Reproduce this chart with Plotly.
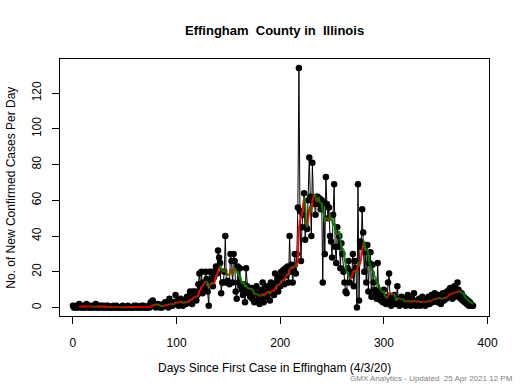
import plotly.graph_objects as go
import numpy as np

# daily new confirmed cases, day 0 .. 386
cases_0_99 = [1,0,0,1,0,0,2,1,0,0, 1,0,0,2,1,0,0,1,0,0, 1,0,2,0,0,1,0,1,0,1,
              0,0,1,0,1,0,0,0,0,1, 0,0,1,0,0,0,0,0,1,0, 0,0,0,1,0,0,0,0,0,1,
              0,1,0,0,0,0,1,0,1,0, 0,0,0,1,0,3,1,4,2,1, 0,1,2,1,0,1,0,2,1,3,
              2,1,0,5,2,1,1,3,2,7]
cases_100_160 = [2,4,1,3,5,2,1,4,3,2, 6,4,3,9,5,2,9,6,9,4, 7,13,19,11,20,8,14,11,20,16,
                 9,1,20,14,20,12,17,20,23,19, 32,28,25,8,14,14,20,40,14,15, 14,13,30,26,14,30,26,9,5,23,
                 14]
cases_161_216 = [22,12,10,7,13,3,22,12,8,10, 6,11,5,9,3,8,12,4,7,2, 10,6,14,3,9,11,6,12,8,4,
                 14,10,12,7,19,13,15,9,17,12, 20,16,21,13,22,18,23,14,40,20, 24,14,21,30,19,30]
cases_217_280 = [56,134,54,26,45,52,64,38,45,44, 60,84,62,40,81,60,58,52,62,62, 58,61,55,60,14,59,30,73,58,50,
                 56,40,37,28,52,69,34,25,45,34, 40,22,36,30,20,14,9,8,22,26, 14,20,18,30,12,26,22,0,69,4,
                 37,34,55,42]
cases_281_386 = [20,31,14,35,9,25,31,6,24,14, 10,8,5,25,6,9,4,7,3,10, 5,2,6,14,19,4,1,6,3,7,
                 2,5,12,3,1,4,6,2,3,5, 1,4,7,2,3,1,5,2,8,3, 1,4,2,5,1,3,6,2,4,1,
                 5,3,6,2,4,7,3,5,8,4, 6,3,7,5,2,6,8,4,7,5, 9,6,10,11,7,5,9,12,6,8,
                 14,10,7,5,8,4,6,3,5,2, 4,1,3,2,1,1]

cases = cases_0_99 + cases_100_160 + cases_161_216 + cases_217_280 + cases_281_386
days = list(range(len(cases)))

title_text = "Effingham\u00a0\u00a0County in\u00a0\u00a0Illinois"
x_title = "Days Since First Case in Effingham (4/3/20)"
y_title = "No. of New Confirmed Cases Per Day"
footer = "GMX Analytics - Updated\u00a0\u00a025 Apr 2021 12 PM"
x_ticks = [0, 100, 200, 300, 400]
y_ticks = [0, 20, 40, 60, 80, 100, 120]

# 7-day trailing moving average
arr = np.array(cases, dtype=float)
ma = np.convolve(arr, np.ones(7) / 7, mode="valid")
ma_days = days[6:]

red_x, red_y, green_x, green_y = [], [], [], []
for i in range(1, len(ma)):
    seg_x = [ma_days[i - 1], ma_days[i], None]
    seg_y = [ma[i - 1], ma[i], None]
    if ma[i] < ma[i - 1]:
        green_x += seg_x; green_y += seg_y
    else:
        red_x += seg_x; red_y += seg_y

fig = go.Figure()
fig.add_trace(go.Scatter(x=days, y=cases, mode="markers",
                         marker=dict(color="black", size=6.5), hoverinfo="skip"))
fig.add_trace(go.Scatter(x=days, y=cases, mode="lines",
                         line=dict(color="black", width=1), hoverinfo="skip"))
fig.add_trace(go.Scatter(x=red_x, y=red_y, mode="lines",
                         line=dict(color="red", width=2), hoverinfo="skip"))
fig.add_trace(go.Scatter(x=green_x, y=green_y, mode="lines",
                         line=dict(color="green", width=2), hoverinfo="skip"))

font = "Liberation Sans, Arial, sans-serif"
fig.update_layout(
    width=520, height=390,
    margin=dict(l=60, r=30.5, t=59.3, b=74.3, pad=0),
    paper_bgcolor="white", plot_bgcolor="white",
    showlegend=False,
    font=dict(family=font, size=12, color="black"),
    xaxis=dict(range=[-12.5, 401.4], tickvals=x_ticks, ticks="outside", ticklen=7,
               tickcolor="black", showline=True, linecolor="black", linewidth=1,
               mirror=True, showgrid=False, zeroline=False,
               tickfont=dict(size=12), ticklabelstandoff=9),
    yaxis=dict(range=[-4.71, 139.07], tickvals=y_ticks, ticks="outside", ticklen=7,
               tickcolor="black", showline=True, linecolor="black", linewidth=1,
               mirror=True, showgrid=False, zeroline=False, tickangle=-90,
               tickfont=dict(size=12), ticklabelstandoff=6),
    annotations=[
        dict(text="<b>" + title_text + "</b>", xref="paper", yref="paper", x=0.5, y=1.11,
             xanchor="center", yanchor="middle", showarrow=False, font=dict(size=13)),
        dict(text=x_title, xref="paper", yref="paper", x=0.5, y=-0.2037,
             xanchor="center", yanchor="middle", showarrow=False, font=dict(size=12)),
        dict(text=y_title, xref="paper", yref="paper", x=-0.116, y=0.5, textangle=-90,
             xanchor="center", yanchor="middle", showarrow=False, font=dict(size=12)),
        dict(text=footer, xref="paper", yref="paper", x=1.0617, y=-0.2427,
             xanchor="right", yanchor="middle", showarrow=False,
             font=dict(size=8, color="#808080")),
    ],
)

# remove the default 8px page margin so the 520x390 figure fills the window
fig.write_html("out.html", config={"displayModeBar": False},
               post_script="document.body.style.margin='0';")
